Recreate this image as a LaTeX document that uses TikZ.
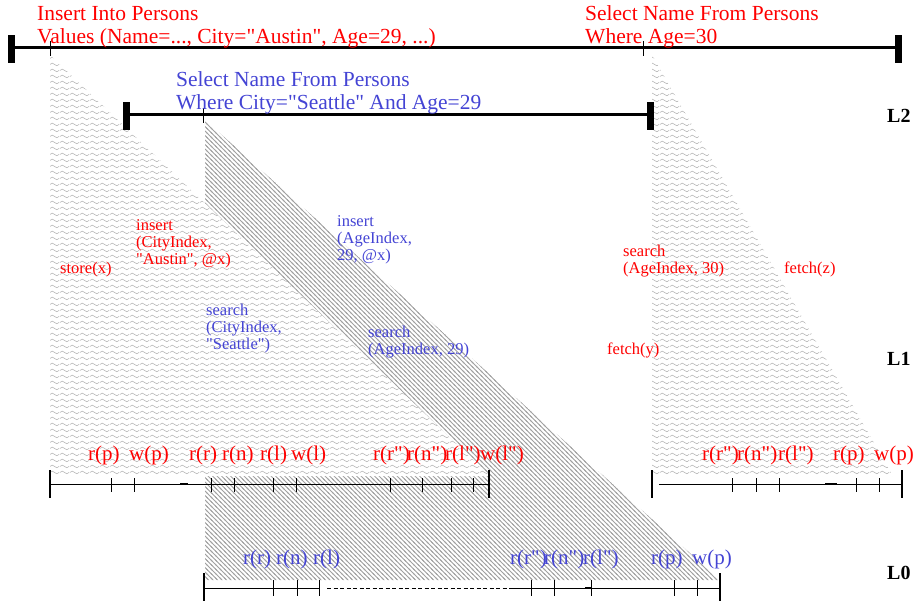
\documentclass[tikz,border=0pt]{standalone}
\usepackage{fontspec}
\setmainfont{Liberation Serif}[Ligatures=TeXOff]
\usepackage{xcolor}
\usepackage{tikz}
\usetikzlibrary{patterns}
\definecolor{txnRed}{HTML}{FF0000}
\definecolor{txnBlue}{HTML}{4444D4}
\definecolor{waveGray}{HTML}{B2B2B2}
\definecolor{stripeGray}{HTML}{A0A0A0}
\pgfdeclarepatternformonly{wavelines}{\pgfqpoint{0pt}{0pt}}{\pgfqpoint{10pt}{6pt}}{\pgfqpoint{10pt}{6pt}}{%
  \pgfsetlinewidth{0.6pt}%
  \pgfpathmoveto{\pgfqpoint{0pt}{3pt}}%
  \pgfpathcurveto{\pgfqpoint{1.6pt}{5pt}}{\pgfqpoint{3.4pt}{5pt}}{\pgfqpoint{5pt}{3pt}}%
  \pgfpathcurveto{\pgfqpoint{6.6pt}{1pt}}{\pgfqpoint{8.4pt}{1pt}}{\pgfqpoint{10pt}{3pt}}%
  \pgfusepath{stroke}}
\pgfdeclarepatternformonly{stripelines}{\pgfqpoint{-1pt}{-1pt}}{\pgfqpoint{5.5pt}{5.5pt}}{\pgfqpoint{4.5pt}{4.5pt}}{%
  \pgfsetlinewidth{0.75pt}%
  \pgfpathmoveto{\pgfqpoint{-1pt}{5.5pt}}%
  \pgfpathlineto{\pgfqpoint{5.5pt}{-1pt}}%
  \pgfusepath{stroke}}
\tikzset{
  sqlTitle/.style={
    anchor=base west,
    inner sep=0pt,
    align=left,
    font=\fontsize{21.5}{23}\selectfont
  },
  opLabel/.style={
    anchor=base west,
    inner sep=0pt,
    align=left,
    font=\fontsize{16.5}{17}\selectfont
  },
  accLabel/.style={
    anchor=base west,
    inner sep=0pt,
    font=\fontsize{21}{23}\selectfont
  },
  levelLabel/.style={
    anchor=base west,
    inner sep=0pt,
    font=\fontsize{20}{22}\selectfont\bfseries
  },
  txnBar/.style={line width=3pt},
  txnEnd/.style={fill=black},
  timeLine/.style={line width=0.8pt},
  timeEnd/.style={line width=2pt},
  timeTick/.style={line width=0.8pt},
  gapMark/.style={line width=1.8pt},
  wavyArea/.style={pattern=wavelines, pattern color=waveGray},
  stripeArea/.style={pattern=stripelines, pattern color=stripeGray}
}

\begin{document}
\begin{tikzpicture}[x=1pt,y=-1pt]
  \useasboundingbox (0,0) rectangle (917,601);
  % level 1 / level 0 areas
  \fill[stripeArea] (205,120) -- (205,580) -- (720,580) -- cycle;
  \fill[white] (50,55) -- (50,476) -- (490,476) -- cycle;
  \fill[wavyArea] (50,55) -- (50,476) -- (490,476) -- cycle;
  \fill[white] (652,55) -- (652,476) -- (893,476) -- cycle;
  \fill[wavyArea] (652,55) -- (652,476) -- (893,476) -- cycle;
  % level 2 transactions
  \draw[txnBar] (10,48) -- (900,48);
  \fill[txnEnd] (8,35) rectangle (15,63);
  \fill[txnEnd] (895,35) rectangle (902,63);
  \draw[timeTick] (50,41) -- (50,56);
  \draw[timeTick] (643,41) -- (643,56);
  \draw[txnBar] (127,115) -- (650,115);
  \fill[txnEnd] (123,102) rectangle (130,130);
  \fill[txnEnd] (647,102) rectangle (654,130);
  \draw[timeTick] (203,108) -- (203,123);
  \node[sqlTitle,text=txnRed] (insertSql) at (37,44) {Insert Into Persons\\Values (Name=..., City="Austin", Age=29, ...)};
  \node[sqlTitle,text=txnRed] (ageSql) at (585,44) {Select Name From Persons\\Where Age=30};
  \node[sqlTitle,text=txnBlue] (citySql) at (176,110) {Select Name From Persons\\Where City="Seattle" And Age=29};
  % level 1 operations
  \node[opLabel,text=txnRed] (storeOp) at (60,273) {store(x)};
  \node[opLabel,text=txnRed] (cityInsOp) at (136,265) {insert\\(CityIndex,\\"Austin", @x)};
  \node[opLabel,text=txnBlue] (ageInsOp) at (337,261) {insert\\(AgeIndex,\\29, @x)};
  \node[opLabel,text=txnBlue] (citySrchOp) at (206,349) {search\\(CityIndex,\\"Seattle")};
  \node[opLabel,text=txnBlue] (ageSrchOp) at (368,354) {search\\(AgeIndex, 29)};
  \node[opLabel,text=txnRed] (ageThirtyOp) at (623,273) {search\\(AgeIndex, 30)};
  \node[opLabel,text=txnRed] (fetchZOp) at (784,273) {fetch(z)};
  \node[opLabel,text=txnRed] (fetchYOp) at (607,354) {fetch(y)};
  % level 1 time lines
  \draw[timeLine] (50,484) -- (489,484);
  \draw[timeEnd] (50,470) -- (50,498);
  \draw[timeEnd] (489,470) -- (489,498);
  \foreach \x in {111,134,211,234,273,296,390,422,451,473}
    \draw[timeTick] (\x,478) -- (\x,492);
  \draw[gapMark] (180,484) -- (188,484);
  \draw[timeLine] (659,484) -- (902,484);
  \draw[timeEnd] (652,470) -- (652,498);
  \draw[timeEnd] (902,470) -- (902,498);
  \foreach \x in {732,756,779,856,879}
    \draw[timeTick] (\x,478) -- (\x,492);
  \draw[gapMark] (825,484) -- (837,484);
  \foreach \x/\t [count=\i] in {88/r(p),129/w(p),189/r(r),222/r(n),260/r(l),291/w(l),373/r(r"),407/r(n"),445/r(l"),480/w(l")}
    \node[accLabel,text=txnRed] (accA\i) at (\x,460) {\t};
  \foreach \x/\t [count=\i] in {702/r(r"),737/r(n"),778/r(l"),833/r(p),874/w(p)}
    \node[accLabel,text=txnRed] (accB\i) at (\x,460) {\t};
  % level 0 time line
  \draw[timeLine] (204,588) -- (319,588);
  \draw[timeLine,dash pattern=on 4pt off 2.5pt] (327,588) -- (510,588);
  \draw[timeLine] (510,588) -- (720,588);
  \draw[timeEnd] (204,573) -- (204,601);
  \draw[timeEnd] (720,573) -- (720,601);
  \foreach \x in {273,297,319,531,554,591,674,697}
    \draw[timeTick] (\x,580) -- (\x,596);
  \draw[gapMark] (585,588) -- (591,588);
  \foreach \x/\t [count=\i] in {243/r(r),276/r(n),313/r(l),510/r(r"),544/r(n"),583/r(l"),651/r(p),692/w(p)}
    \node[accLabel,text=txnBlue] (accC\i) at (\x,564) {\t};
  % levels
  \node[levelLabel] (levelTwo) at (887,123) {L2};
  \node[levelLabel] (levelOne) at (887,365) {L1};
  \node[levelLabel] (levelZero) at (887,579) {L0};
\end{tikzpicture}
\end{document}
